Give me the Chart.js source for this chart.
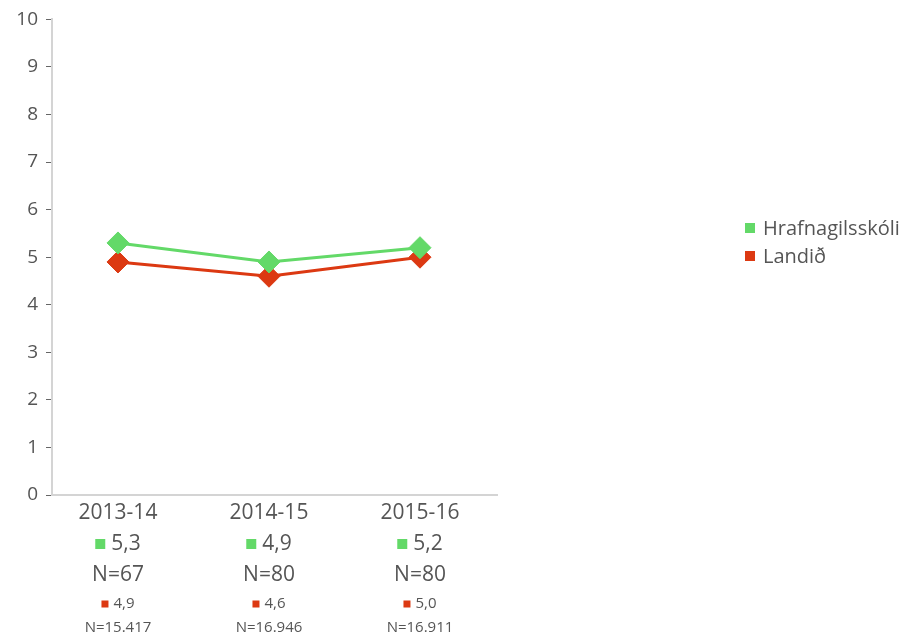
<!DOCTYPE html>
<html>
<head>
<meta charset="utf-8">
<script src="https://cdn.jsdelivr.net/npm/chart.js@4.4.0/dist/chart.umd.min.js"></script>
<style>
  html, body { margin: 0; padding: 0; background: #fff; }
  #wrap { width: 916px; height: 638px; }
</style>
</head>
<body>
<div id="wrap"><canvas id="chart" width="916" height="638"></canvas></div>
<script>
'use strict';

// Data
let categories = ['2013-14', '2014-15', '2015-16'];
let schoolName = 'Hrafnagilsskóli';
let countryName = 'Landið';
let schoolValues = [5.3, 4.9, 5.2];
let countryValues = [4.9, 4.6, 5.0];
let schoolN = [67, 80, 80];
let countryN = [15417, 16946, 16911];
let yTicks = [0, 1, 2, 3, 4, 5, 6, 7, 8, 9, 10];

let green = '#63d968';
let red = '#dc3912';
let textColor = '#555';
let axisColor = '#d4d4d4';
let fontFamily = '"Open Sans", sans-serif';

function fmtDec(v) {
    return v.toFixed(1).replace('.', ',');
}
function fmtThousands(v) {
    return String(v).replace(/\B(?=(\d{3})+(?!\d))/g, '.');
}

// text rows under the x axis + legend on the right
let labelsPlugin = {
    id: 'labelsPlugin',
    afterDraw(chart) {
        let ctx = chart.ctx;
        let xs = chart.scales.x;
        ctx.save();
        ctx.textBaseline = 'middle';
        ctx.fillStyle = textColor;

        categories.forEach(function(cat, i) {
            let cx = xs.getPixelForValue(i);

            ctx.textAlign = 'center';
            ctx.font = '21px ' + fontFamily;
            ctx.fillStyle = textColor;
            ctx.fillText(cat, cx, 513);

            // school value with green square
            let t = fmtDec(schoolValues[i]);
            let tw = ctx.measureText(t).width;
            let sq = 10, gap = 6;
            let total = sq + gap + tw;
            let x0 = cx - total / 2;
            ctx.fillStyle = green;
            ctx.fillRect(x0, 544 - sq / 2, sq, sq);
            ctx.fillStyle = textColor;
            ctx.textAlign = 'left';
            ctx.fillText(t, x0 + sq + gap, 544);

            ctx.textAlign = 'center';
            ctx.fillText('N=' + schoolN[i], cx, 575);

            // country value with red square
            ctx.font = '15px ' + fontFamily;
            t = fmtDec(countryValues[i]);
            tw = ctx.measureText(t).width;
            sq = 7; gap = 5;
            total = sq + gap + tw;
            x0 = cx - total / 2;
            ctx.fillStyle = red;
            ctx.fillRect(x0, 604 - sq / 2, sq, sq);
            ctx.fillStyle = textColor;
            ctx.textAlign = 'left';
            ctx.fillText(t, x0 + sq + gap, 604);

            ctx.textAlign = 'center';
            ctx.fillText('N=' + fmtThousands(countryN[i]), cx, 628);
        });

        // legend
        ctx.font = '20px ' + fontFamily;
        ctx.textAlign = 'left';
        [[schoolName, green, 228], [countryName, red, 256]].forEach(function(row) {
            ctx.fillStyle = row[1];
            ctx.fillRect(745, row[2] - 5, 10, 10);
            ctx.fillStyle = textColor;
            ctx.fillText(row[0], 763, row[2] + 1);
        });
        ctx.restore();
    }
};

let datasets = [{
    label: schoolName,
    data: schoolValues.map(function(v, i) { return {x: i, y: v}; }),
    borderColor: green,
    backgroundColor: green,
    borderWidth: 3,
    pointStyle: 'rectRot',
    pointRadius: 11,
    pointBorderWidth: 1
}, {
    label: countryName,
    data: countryValues.map(function(v, i) { return {x: i, y: v}; }),
    borderColor: red,
    backgroundColor: red,
    borderWidth: 3,
    pointStyle: 'rectRot',
    pointRadius: 11,
    pointBorderWidth: 1
}];

let config = {
    type: 'line',
    data: { datasets: datasets },
    options: {
        responsive: false,
        animation: false,
        layout: {
            padding: { top: 17, right: 419, bottom: 0, left: 0 }
        },
        plugins: {
            legend: { display: false },
            tooltip: { enabled: false }
        },
        scales: {
            x: {
                type: 'linear',
                min: -0.437,
                max: 2.51,
                grid: { display: false },
                border: { color: axisColor, width: 2 },
                ticks: { display: false },
                afterFit: function(s) { s.height = 143; }
            },
            y: {
                min: 0,
                max: 10,
                afterBuildTicks: function(s) {
                    s.ticks = yTicks.map(function(v) { return {value: v}; });
                },
                grid: {
                    drawOnChartArea: false,
                    drawTicks: true,
                    tickLength: 6,
                    color: '#666',
                    lineWidth: 1
                },
                border: { color: axisColor, width: 2 },
                ticks: {
                    color: textColor,
                    padding: 8,
                    font: { family: fontFamily, size: 19 }
                },
                afterFit: function(s) { s.width = 52; }
            }
        }
    },
    plugins: [labelsPlugin]
};

let chart = new Chart(document.getElementById('chart').getContext('2d'), config);
</script>
</body>
</html>
